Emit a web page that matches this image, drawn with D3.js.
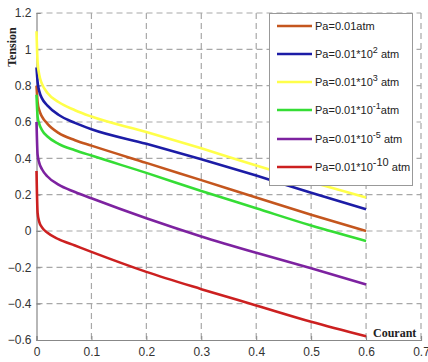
<!DOCTYPE html>
<html><head><meta charset="utf-8">
<script src="https://cdn.jsdelivr.net/npm/d3@7"></script>
<style>body{margin:0;background:#fff}svg{display:block}</style>
</head><body><svg id="c" width="428" height="362"></svg>
<script>
const xVals = [0, 0.002, 0.005, 0.01, 0.02, 0.04, 0.07, 0.1, 0.2, 0.3, 0.4, 0.5, 0.6];
const seriesNames = ["Pa=0.01atm","Pa=0.01*10^2 atm","Pa=0.01*10^3 atm","Pa=0.01*10^-1atm","Pa=0.01*10^-5 atm","Pa=0.01*10^-10 atm"];
const brown  = [0.80, 0.71, 0.665, 0.63, 0.59, 0.54, 0.50, 0.47, 0.375, 0.28, 0.185, 0.09, 0.0];
const blue   = [0.90, 0.82, 0.77, 0.73, 0.69, 0.64, 0.595, 0.56, 0.48, 0.395, 0.305, 0.21, 0.12];
const yellow = [1.10, 0.93, 0.86, 0.81, 0.76, 0.71, 0.665, 0.63, 0.545, 0.455, 0.36, 0.27, 0.185];
const green  = [0.75, 0.63, 0.59, 0.555, 0.52, 0.48, 0.445, 0.415, 0.32, 0.22, 0.125, 0.03, -0.055];
const purple = [0.60, 0.42, 0.375, 0.34, 0.30, 0.255, 0.215, 0.18, 0.07, -0.03, -0.12, -0.205, -0.295];
const red    = [0.33, 0.10, 0.05, 0.02, -0.01, -0.045, -0.08, -0.115, -0.225, -0.32, -0.41, -0.50, -0.58];
const xTicks = [0, 0.1, 0.2, 0.3, 0.4, 0.5, 0.6, 0.7];
const yTicks = [-0.6, -0.4, -0.2, 0, 0.2, 0.4, 0.6, 0.8, 1, 1.2];
const legendMain = ["Pa=0.01atm","Pa=0.01*10","Pa=0.01*10","Pa=0.01*10","Pa=0.01*10","Pa=0.01*10"];
const legendSup  = ["","2","3","-1","-5","-10"];
const legendTail = ["", " atm", " atm", "atm", " atm", " atm"];
const colors = ["#c4561e","#1c1ca6","#ffff4a","#35dd35","#7d22a0","#cc2020"];

const allSeries = [brown, blue, yellow, green, purple, red];
const svg = d3.select("#c");
const x = d3.scaleLinear().domain([0, 0.7]).range([36.5, 421]);
const y = d3.scaleLinear().domain([-0.6, 1.2]).range([340, 13]);

// grid
const g = svg.append("g");
g.selectAll("line.vg").data(xTicks.slice(1)).join("line")
  .attr("x1", d => x(d)).attr("x2", d => x(d)).attr("y1", y(1.2)).attr("y2", y(-0.6))
  .attr("stroke", "#a8a8a8").attr("stroke-width", 1.2).attr("stroke-dasharray", "6,4");
g.selectAll("line.hg").data(yTicks.slice(1)).join("line")
  .attr("x1", x(0)).attr("x2", x(0.7)).attr("y1", d => y(d)).attr("y2", d => y(d))
  .attr("stroke", "#a8a8a8").attr("stroke-width", 1.2).attr("stroke-dasharray", "6,4");

// axes
const xAxis = d3.axisBottom(x).tickValues(xTicks).tickSize(-4).tickPadding(7).tickFormat(d => d === 0 ? "0" : d3.format(".1f")(d));
const yAxis = d3.axisLeft(y).tickValues(yTicks).tickSize(-4).tickPadding(5).tickFormat(d => d === 0 ? "0" : (Math.abs(d) === 1 ? String(d) : d3.format(".1f")(d)));
const ax = svg.append("g").attr("transform", `translate(0,${y(-0.6)})`).call(xAxis);
const ay = svg.append("g").attr("transform", `translate(${x(0)},0)`).call(yAxis);
[ax, ay].forEach(a => {
  a.select(".domain").attr("stroke", "#888").attr("stroke-width", 1.2);
  a.selectAll(".tick line").attr("stroke", "#888");
  a.selectAll("text").attr("font-family", "Liberation Sans, Arial, sans-serif").attr("font-size", 12).attr("fill", "#333");
});

// lines
const line = d3.line().x((d, i) => x(xVals[i])).y(d => y(d)).curve(d3.curveMonotoneX);
svg.append("g").selectAll("path").data(allSeries).join("path")
  .attr("d", d => line(d)).attr("fill", "none")
  .attr("stroke", (d, i) => colors[i]).attr("stroke-width", 2.6);

// axis titles
svg.append("text").attr("transform", "translate(16,47) rotate(-90)").attr("text-anchor", "middle")
  .attr("font-family", "Liberation Serif, Times New Roman, serif").attr("font-weight", "bold").attr("font-size", 12).attr("fill", "#222").text("Tension");
svg.append("text").attr("x", 373).attr("y", 337)
  .attr("font-family", "Liberation Serif, Times New Roman, serif").attr("font-weight", "bold").attr("font-size", 12).attr("fill", "#222").text("Courant");

// legend
const lg = svg.append("g");
lg.append("rect").attr("x", 269.5).attr("y", 13.5).attr("width", 143).attr("height", 172)
  .attr("fill", "#fff").attr("stroke", "#999").attr("stroke-width", 1);
const rows = [26, 54, 82, 110, 139, 167];
seriesNames.forEach((n, i) => {
  lg.append("line").attr("x1", 277).attr("x2", 312).attr("y1", rows[i]).attr("y2", rows[i])
    .attr("stroke", colors[i]).attr("stroke-width", 2.6);
  const t = lg.append("text").attr("x", 315).attr("y", rows[i] + 4)
    .attr("font-family", "Liberation Sans, Arial, sans-serif").attr("font-size", 11).attr("fill", "#222");
  t.append("tspan").text(legendMain[i]);
  if (legendSup[i]) {
    t.append("tspan").attr("dy", -5).attr("font-size", legendSup[i].length > 2 ? 11 : 9).text(legendSup[i]);
    t.append("tspan").attr("dy", 5).text(legendTail[i]);
  }
});
</script></body></html>
